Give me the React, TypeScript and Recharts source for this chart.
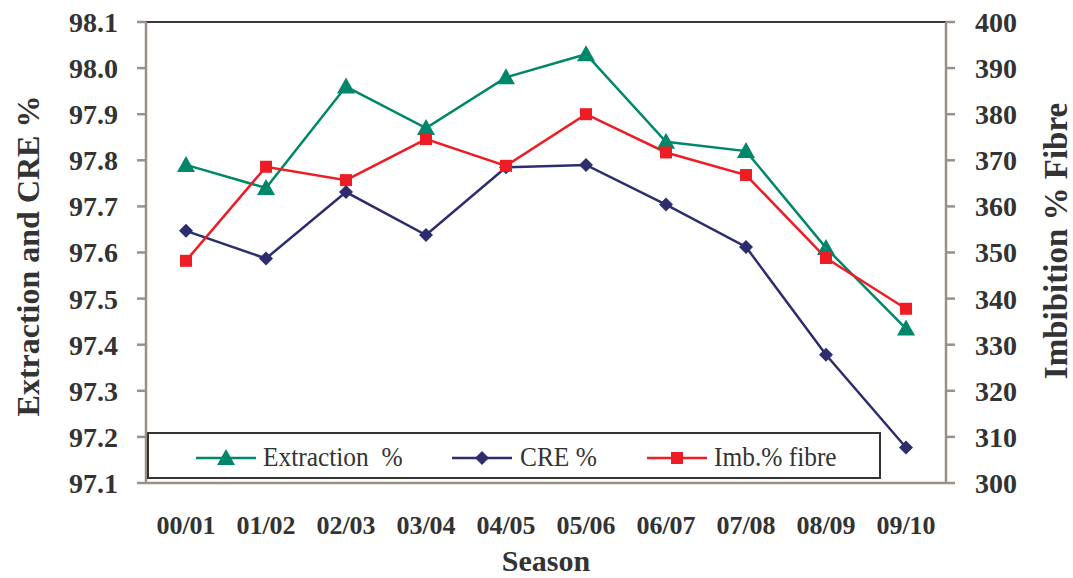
import React from "react"
import { LineChart, Line, XAxis, YAxis, ReferenceLine, Legend } from "recharts"

const seasons = ["00/01", "01/02", "02/03", "03/04", "04/05", "05/06", "06/07", "07/08", "08/09", "09/10"]
const extraction = [97.79, 97.74, 97.96, 97.87, 97.98, 98.03, 97.84, 97.82, 97.61, 97.435]
const cre = [97.647, 97.587, 97.731, 97.638, 97.785, 97.79, 97.704, 97.612, 97.378, 97.177]
const imbibition = [348.2, 368.6, 365.7, 374.6, 368.8, 380.0, 371.7, 366.8, 348.8, 337.8]

const leftTicks = [97.1, 97.2, 97.3, 97.4, 97.5, 97.6, 97.7, 97.8, 97.9, 98.0, 98.1]
const rightTicks = [300, 310, 320, 330, 340, 350, 360, 370, 380, 390, 400]

// positions along a numeric x axis so tick marks sit between seasons
const data = seasons.map((s, i) => ({
  season: s,
  pos: i + 0.5,
  extraction: extraction[i],
  cre: cre[i],
  imbibition: imbibition[i],
}))
const boundaryTicks = seasons.map((_, i) => i).concat(seasons.length)
const centerTicks = data.map((d) => d.pos)

const GREEN = "#00876b"
const NAVY = "#2d2d6e"
const RED = "#ee1c25"
const AXIS = "#9b8f8a"
const TEXT = "#333333"
const SERIF = "'Liberation Serif', 'Times New Roman', serif"

const Triangle = ({ cx, cy, fill }: any) => (
  <polygon points={`${cx},${cy - 9} ${cx - 9},${cy + 7} ${cx + 9},${cy + 7}`} fill={fill} />
)
const Diamond = ({ cx, cy, fill }: any) => (
  <polygon points={`${cx},${cy - 7} ${cx + 7},${cy} ${cx},${cy + 7} ${cx - 7},${cy}`} fill={fill} />
)
const Square = ({ cx, cy, fill }: any) => <rect x={cx - 6} y={cy - 6} width={12} height={12} fill={fill} />

const legendItems = [
  { name: "Extraction  %", color: GREEN, Marker: Triangle, left: 46, text: 114 },
  { name: "CRE %", color: NAVY, Marker: Diamond, left: 302, text: 371 },
  { name: "Imb.% fibre", color: RED, Marker: Square, left: 497, text: 565 },
]

function renderLegend() {
  return (
    <div style={{ position: "relative", width: "100%", height: "100%" }}>
      {legendItems.map((it) => (
        <React.Fragment key={it.name}>
          <svg style={{ position: "absolute", left: it.left, top: 12 }} width={62} height={24}>
            <line x1={1} y1={12} x2={61} y2={12} stroke={it.color} strokeWidth={2.5} />
            <it.Marker cx={31} cy={12} fill={it.color} />
          </svg>
          <span
            style={{
              position: "absolute",
              left: it.text,
              top: 8,
              fontFamily: SERIF,
              fontSize: 27,
              color: TEXT,
              whiteSpace: "pre",
              lineHeight: "30px",
              display: "inline-block",
              transform: "scaleX(0.94)",
              transformOrigin: "left center",
            }}
          >
            {it.name}
          </span>
        </React.Fragment>
      ))}
    </div>
  )
}

const tickStyle = { fontFamily: SERIF, fontWeight: 700, fontSize: 28, fill: TEXT }
const titleStyle: React.CSSProperties = {
  position: "absolute",
  fontFamily: SERIF,
  fontWeight: 700,
  fontSize: 31,
  lineHeight: 1,
  color: TEXT,
  whiteSpace: "nowrap",
  transform: "translate(-50%, -50%) rotate(-90deg)",
}

export default function App() {
  return (
    <div style={{ position: "absolute", left: 0, top: 0, width: 1073, height: 578, background: "#fff", overflow: "hidden" }}>
      <LineChart width={1073} height={578} data={data} margin={{ top: 22, right: 0, left: 0, bottom: 27 }}>
        <XAxis
          xAxisId="grid"
          type="number"
          dataKey="pos"
          domain={[0, seasons.length]}
          ticks={boundaryTicks}
          tick={false}
          tickSize={7}
          height={8}
          stroke={AXIS}
          strokeWidth={2.5}
        />
        <XAxis
          xAxisId="labels"
          type="number"
          dataKey="pos"
          domain={[0, seasons.length]}
          ticks={centerTicks}
          axisLine={false}
          tickLine={false}
          tickMargin={19}
          height={60}
          tickFormatter={(v: number) => seasons[Math.floor(v)]}
          tick={{ fontFamily: SERIF, fontWeight: 700, fontSize: 26, fill: TEXT }}
        />
        <YAxis
          yAxisId="left"
          width={146}
          domain={[97.1, 98.1]}
          ticks={leftTicks}
          tickFormatter={(v: number) => v.toFixed(1)}
          tickSize={9}
          tickMargin={19}
          stroke={AXIS}
          strokeWidth={2.5}
          tick={tickStyle}
        />
        <YAxis
          yAxisId="right"
          orientation="right"
          width={127}
          domain={[300, 400]}
          ticks={rightTicks}
          tickSize={9}
          tickMargin={20}
          stroke={AXIS}
          strokeWidth={2.5}
          tick={tickStyle}
        />
        <ReferenceLine xAxisId="grid" yAxisId="left" y={98.1} stroke="#3a3a3a" strokeWidth={2} />
        <Legend
          layout="horizontal"
          verticalAlign="middle"
          content={renderLegend}
          wrapperStyle={{
            position: "absolute",
            left: 147,
            top: 432,
            width: 734,
            height: 47,
            border: "2px solid #333",
            background: "#fff",
            boxSizing: "border-box",
          }}
        />
        <Line
          xAxisId="grid"
          yAxisId="left"
          dataKey="extraction"
          name="Extraction %"
          stroke={GREEN}
          strokeWidth={2.5}
          dot={(p: any) => <Triangle key={p.index} cx={p.cx} cy={p.cy} fill={GREEN} />}
          isAnimationActive={false}
        />
        <Line
          xAxisId="grid"
          yAxisId="left"
          dataKey="cre"
          name="CRE %"
          stroke={NAVY}
          strokeWidth={2.5}
          dot={(p: any) => <Diamond key={p.index} cx={p.cx} cy={p.cy} fill={NAVY} />}
          isAnimationActive={false}
        />
        <Line
          xAxisId="grid"
          yAxisId="right"
          dataKey="imbibition"
          name="Imb.% fibre"
          stroke={RED}
          strokeWidth={2.5}
          dot={(p: any) => <Square key={p.index} cx={p.cx} cy={p.cy} fill={RED} />}
          isAnimationActive={false}
        />
      </LineChart>
      <div style={{ ...titleStyle, fontSize: 32, left: 28, top: 256 }}>Extraction and CRE %</div>
      <div style={{ ...titleStyle, fontSize: 33, left: 1056, top: 241 }}>Imbibition % Fibre</div>
      <div style={{ ...titleStyle, fontSize: 30, left: 546, top: 561, transform: "translate(-50%, -50%)" }}>Season</div>
    </div>
  )
}
